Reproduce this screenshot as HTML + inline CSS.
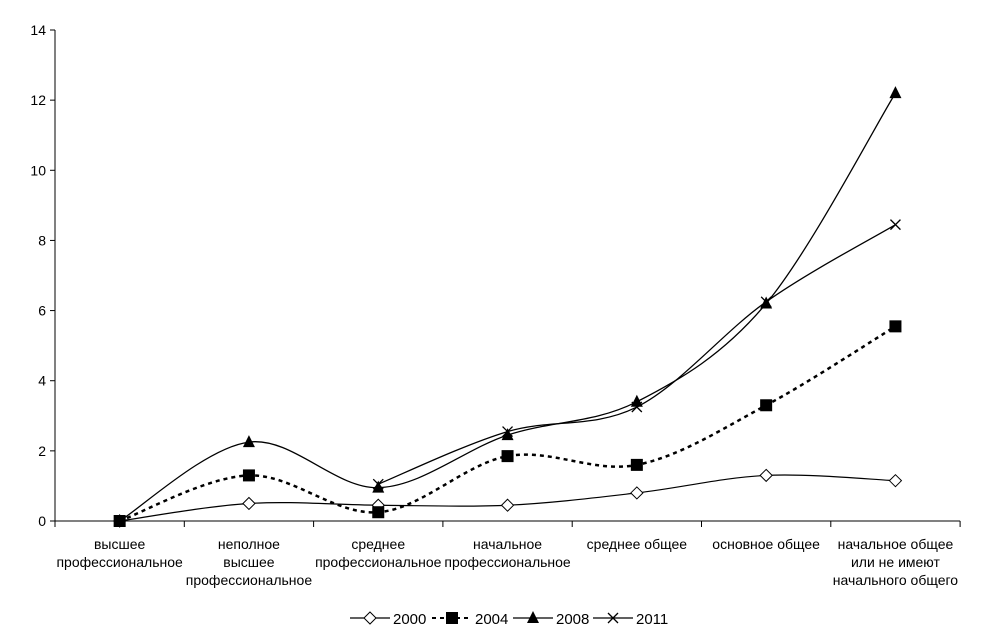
<!DOCTYPE html>
<html><head><meta charset="utf-8"><style>
body{margin:0;background:#fff;}
svg text{font-family:"Liberation Sans",sans-serif;fill:#000;}
</style></head><body>
<svg id="c" width="1000" height="635"></svg>
<script>
const categories=[["высшее","профессиональное"],["неполное","высшее","профессиональное"],["среднее","профессиональное"],["начальное","профессиональное"],["среднее общее"],["основное общее"],["начальное общее","или не имеют","начального общего"]];
const yTicks=[0,2,4,6,8,10,12,14];
const s2000=[0,0.5,0.45,0.45,0.8,1.3,1.15];
const s2004=[0,1.3,0.25,1.85,1.6,3.3,5.55];
const s2008=[0,2.25,0.95,2.45,3.4,6.2,12.2];
const s2011=[null,null,1.05,2.55,3.25,6.25,8.45];
const NS="http://www.w3.org/2000/svg";
const svg=document.getElementById('c');
const x0=55,cw=129.3,yb=521,yt=30;
const X=i=>x0+cw*(i+0.5);
const Y=v=>yb-(v/14)*(yb-yt);
function mk(t,a,p){const e=document.createElementNS(NS,t);for(const k in a)e.setAttribute(k,a[k]);(p||svg).appendChild(e);return e;}
// axes
const ax=mk('line',{x1:x0,y1:yt,x2:x0,y2:yb,stroke:'#000'});


const bx=mk('line',{x1:x0,y1:yb,x2:x0+cw*7,y2:yb,stroke:'#000'});


yTicks.forEach(v=>{
 mk('line',{x1:x0-5,y1:Y(v),x2:x0,y2:Y(v),stroke:'#000'});
 const t=mk('text',{x:x0-9,y:Y(v)+5,'text-anchor':'end','font-size':14});t.textContent=v;
 
 
});
for(let i=0;i<=7;i++)mk('line',{x1:x0+cw*i,y1:yb,x2:x0+cw*i,y2:yb+6,stroke:'#000'});
categories.forEach((c,i)=>{
 c.forEach((ln,j)=>{const t=mk('text',{x:X(i),y:549+j*18,'text-anchor':'middle','font-size':14});t.textContent=ln;
 
 });
});
function path(arr){
 const p=[];arr.forEach((v,i)=>{if(v!==null)p.push([X(i),Y(v)]);});
 let d='M'+p[0][0]+','+p[0][1];
 for(let i=0;i<p.length-1;i++){
  const a=p[i-1]||p[i],b=p[i],c=p[i+1],e=p[i+2]||c;
  d+=' C'+(b[0]+(c[0]-a[0])/6)+','+(b[1]+(c[1]-a[1])/6)+' '+(c[0]-(e[0]-b[0])/6)+','+(c[1]-(e[1]-b[1])/6)+' '+c[0]+','+c[1];
 }
 return d;
}
function marker(type,x,y,g){
 if(type==='d')mk('polygon',{points:`${x},${y-6} ${x+6},${y} ${x},${y+6} ${x-6},${y}`,fill:'#fff',stroke:'#000'},g);
 if(type==='s')mk('rect',{x:x-6,y:y-6,width:12,height:12,fill:'#000'},g);
 if(type==='t')mk('polygon',{points:`${x},${y-7} ${x+6},${y+5} ${x-6},${y+5}`,fill:'#000'},g);
 if(type==='x'){mk('path',{d:`M${x-5},${y-5}L${x+5},${y+5}M${x-5},${y+5}L${x+5},${y-5}`,stroke:'#000','stroke-width':1.3},g);}
}
const series=[[s2000,'d','','series-2000',1.2],[s2004,'s','4,4','series-2004',2.5],[s2008,'t','','series-2008',1.3],[s2011,'x','','series-2011',1.3]];
series.forEach(([arr,m,dash,name,w])=>{
 const g=mk('g',{});
 
 
 mk('path',{d:path(arr),fill:'none',stroke:'#000','stroke-width':w,'stroke-dasharray':dash},g);
 arr.forEach((v,i)=>{if(v!==null)marker(m,X(i),Y(v),g);});
});
// legend
const leg=[['2000','d',''],['2004','s','4,4'],['2008','t',''],['2011','x','']];
const lx=[350,432,513,593];
leg.forEach(([lab,m,dash],i)=>{
 const g=mk('g',{});
 
 
 mk('line',{x1:lx[i],y1:618,x2:lx[i]+40,y2:618,stroke:'#000','stroke-width':dash?2:1.2,'stroke-dasharray':dash},g);
 marker(m,lx[i]+20,618,g);
 const t=mk('text',{x:lx[i]+43,y:624,'font-size':15},g);t.textContent=lab;
});
</script>
</body></html>
